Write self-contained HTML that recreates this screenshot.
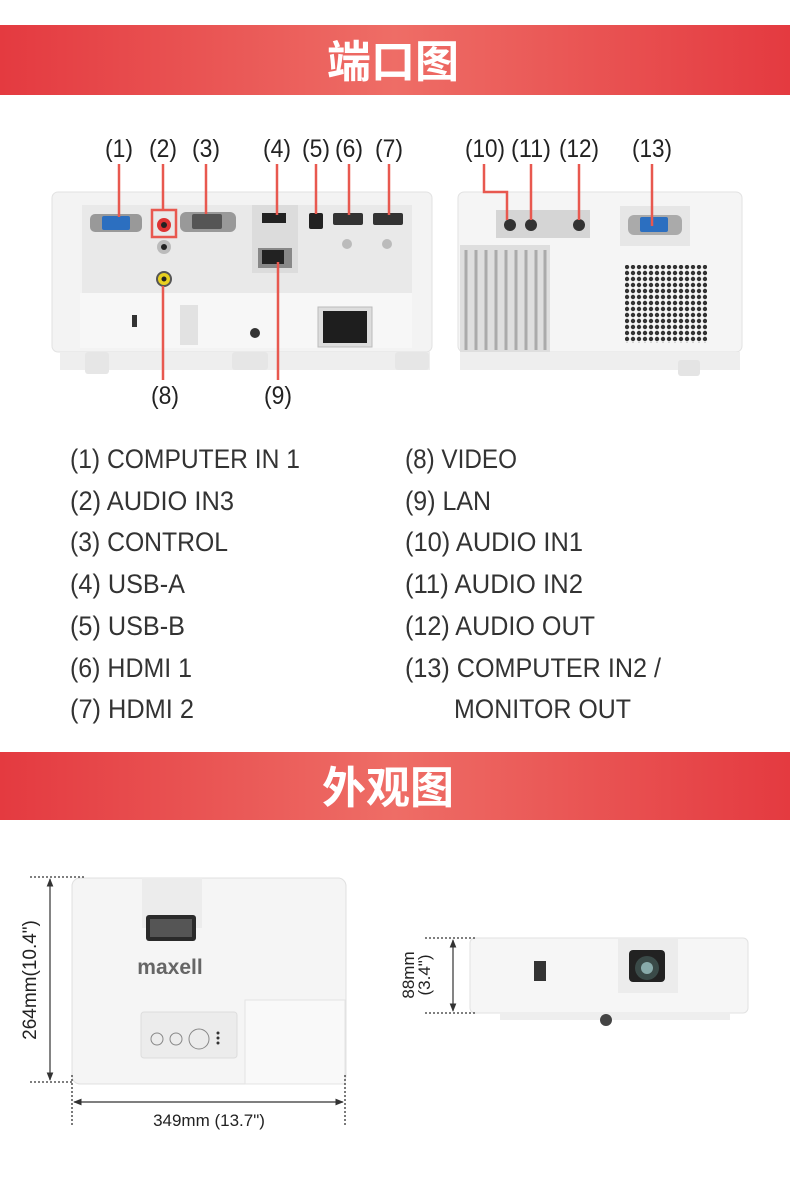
<!DOCTYPE html>
<html><head><meta charset="utf-8"><style>
html,body{margin:0;padding:0;background:#fff}
svg{display:block}
.lbl{font-family:"Liberation Sans Narrow","Liberation Sans",sans-serif;font-size:25px;fill:#222}
.li{font-family:"Liberation Sans Narrow","Liberation Sans",sans-serif;font-size:27px;fill:#333}
.tt{font-family:"Liberation Sans","Noto Sans CJK SC",sans-serif;font-size:44px;font-weight:bold;fill:#fff}
.dim{font-family:"Liberation Sans Narrow","Liberation Sans",sans-serif;fill:#222}
</style></head><body>
<svg width="790" height="1180" viewBox="0 0 790 1180" xmlns="http://www.w3.org/2000/svg">
<defs>
<linearGradient id="bn" x1="0" x2="1" y1="0" y2="0">
<stop offset="0" stop-color="#e43a40"/><stop offset="0.5" stop-color="#ee6d66"/><stop offset="1" stop-color="#e43a40"/>
</linearGradient>
<pattern id="dots" width="6" height="6" patternUnits="userSpaceOnUse"><circle cx="3" cy="3" r="2.2" fill="#333"/></pattern>
<marker id="ar" viewBox="0 0 10 10" refX="9" refY="5" markerWidth="7" markerHeight="7" orient="auto-start-reverse"><path d="M0,1 L10,5 L0,9 z" fill="#333"/></marker>
</defs>
<rect x="0" y="25" width="790" height="70" fill="url(#bn)"/>
<text x="393" y="77" class="tt" text-anchor="middle">端口图</text>

<g class="lbl" text-anchor="middle">
<text x="119" y="157" textLength="28" lengthAdjust="spacingAndGlyphs">(1)</text><text x="163" y="157" textLength="28" lengthAdjust="spacingAndGlyphs">(2)</text><text x="206" y="157" textLength="28" lengthAdjust="spacingAndGlyphs">(3)</text>
<text x="277" y="157" textLength="28" lengthAdjust="spacingAndGlyphs">(4)</text><text x="316" y="157" textLength="28" lengthAdjust="spacingAndGlyphs">(5)</text><text x="349" y="157" textLength="28" lengthAdjust="spacingAndGlyphs">(6)</text><text x="389" y="157" textLength="28" lengthAdjust="spacingAndGlyphs">(7)</text>
<text x="485" y="157" textLength="40" lengthAdjust="spacingAndGlyphs">(10)</text><text x="531" y="157" textLength="40" lengthAdjust="spacingAndGlyphs">(11)</text><text x="579" y="157" textLength="40" lengthAdjust="spacingAndGlyphs">(12)</text><text x="652" y="157" textLength="40" lengthAdjust="spacingAndGlyphs">(13)</text>
<text x="165" y="404" textLength="28" lengthAdjust="spacingAndGlyphs">(8)</text><text x="278" y="404" textLength="28" lengthAdjust="spacingAndGlyphs">(9)</text>
</g>

<rect x="52" y="192" width="380" height="160" rx="6" fill="#f3f3f3" stroke="#e2e2e2"/>
<rect x="82" y="205" width="330" height="88" fill="#e9e9e9"/>
<rect x="252" y="205" width="46" height="68" fill="#dcdcdc"/>
<rect x="80" y="293" width="332" height="55" fill="#f7f7f7"/>
<rect x="60" y="352" width="370" height="18" fill="#eeeeee"/>
<rect x="85" y="352" width="24" height="22" rx="3" fill="#e6e6e6"/>
<rect x="232" y="352" width="36" height="18" rx="3" fill="#e6e6e6"/>
<rect x="395" y="352" width="34" height="18" rx="3" fill="#e6e6e6"/>
<rect x="180" y="305" width="18" height="40" fill="#e2e2e2"/>
<rect x="132" y="315" width="5" height="12" fill="#333"/>
<circle cx="255" cy="333" r="5" fill="#333"/>
<rect x="318" y="307" width="54" height="40" fill="#ddd" stroke="#bbb"/>
<rect x="323" y="311" width="44" height="32" fill="#1e1e1e"/>
<rect x="90" y="214" width="52" height="18" rx="5" fill="#999"/>
<rect x="102" y="216" width="28" height="14" rx="2" fill="#2c6fc0"/>
<rect x="152" y="210" width="24" height="27" fill="none" stroke="#e8584f" stroke-width="2.5"/>
<circle cx="164" cy="225" r="7" fill="#d33"/><circle cx="164" cy="225" r="3" fill="#222"/>
<circle cx="164" cy="247" r="7" fill="#bbb"/><circle cx="164" cy="247" r="3" fill="#222"/>
<circle cx="164" cy="279" r="8" fill="#555"/><circle cx="164" cy="279" r="6" fill="#e8d020"/><circle cx="164" cy="279" r="2.5" fill="#222"/>
<rect x="180" y="212" width="56" height="20" rx="6" fill="#999"/>
<rect x="192" y="214" width="30" height="15" rx="2" fill="#555"/>
<rect x="262" y="213" width="24" height="10" fill="#222"/>
<rect x="258" y="248" width="34" height="20" fill="#888"/><rect x="262" y="250" width="22" height="14" fill="#222"/>
<rect x="309" y="213" width="14" height="16" rx="2" fill="#222"/>
<rect x="333" y="213" width="30" height="12" rx="2" fill="#333"/>
<rect x="373" y="213" width="30" height="12" rx="2" fill="#333"/>
<circle cx="347" cy="244" r="5" fill="#bbb"/><circle cx="387" cy="244" r="5" fill="#bbb"/>
<rect x="458" y="192" width="284" height="160" rx="6" fill="#f5f5f5" stroke="#e2e2e2"/>
<rect x="496" y="210" width="94" height="28" fill="#d5d5d5"/>
<circle cx="510" cy="225" r="6" fill="#333"/><circle cx="531" cy="225" r="6" fill="#333"/><circle cx="579" cy="225" r="6" fill="#333"/>
<rect x="620" y="206" width="70" height="40" fill="#e6e6e6"/>
<rect x="628" y="215" width="54" height="20" rx="6" fill="#aaa"/>
<rect x="640" y="217" width="28" height="15" rx="2" fill="#2c6fc0"/>
<rect x="460" y="245" width="90" height="110" fill="#dedede"/>
<g stroke="#aaa" stroke-width="3">
<line x1="466" y1="250" x2="466" y2="350"/><line x1="476" y1="250" x2="476" y2="350"/><line x1="486" y1="250" x2="486" y2="350"/><line x1="496" y1="250" x2="496" y2="350"/><line x1="506" y1="250" x2="506" y2="350"/><line x1="516" y1="250" x2="516" y2="350"/><line x1="526" y1="250" x2="526" y2="350"/><line x1="536" y1="250" x2="536" y2="350"/><line x1="545" y1="250" x2="545" y2="350"/>
</g>
<rect x="625" y="265" width="82" height="78" fill="url(#dots)"/>
<rect x="460" y="352" width="280" height="18" fill="#eee"/>
<rect x="678" y="360" width="22" height="16" rx="3" fill="#e4e4e4"/>
<g stroke="#e8584f" stroke-width="2.5" fill="none">
<line x1="119" y1="164" x2="119" y2="217"/>
<line x1="163" y1="164" x2="163" y2="210"/>
<line x1="206" y1="164" x2="206" y2="214"/>
<line x1="277" y1="164" x2="277" y2="215"/>
<line x1="316" y1="164" x2="316" y2="214"/>
<line x1="349" y1="164" x2="349" y2="215"/>
<line x1="389" y1="164" x2="389" y2="215"/>
<line x1="163" y1="286" x2="163" y2="380"/>
<line x1="278" y1="262" x2="278" y2="380"/>
<polyline points="484,164 484,192 507,192 507,220"/>
<line x1="531" y1="164" x2="531" y2="220"/>
<line x1="579" y1="164" x2="579" y2="220"/>
<line x1="652" y1="164" x2="652" y2="226"/>
</g>

<g class="li">
<text x="70" y="468" textLength="230" lengthAdjust="spacingAndGlyphs">(1) COMPUTER IN 1</text>
<text x="70" y="510" textLength="164" lengthAdjust="spacingAndGlyphs">(2) AUDIO IN3</text>
<text x="70" y="551" textLength="158" lengthAdjust="spacingAndGlyphs">(3) CONTROL</text>
<text x="70" y="593" textLength="115" lengthAdjust="spacingAndGlyphs">(4) USB-A</text>
<text x="70" y="635" textLength="115" lengthAdjust="spacingAndGlyphs">(5) USB-B</text>
<text x="70" y="677" textLength="122" lengthAdjust="spacingAndGlyphs">(6) HDMI 1</text>
<text x="70" y="718" textLength="124" lengthAdjust="spacingAndGlyphs">(7) HDMI 2</text>
<text x="405" y="468" textLength="112" lengthAdjust="spacingAndGlyphs">(8) VIDEO</text>
<text x="405" y="510" textLength="86" lengthAdjust="spacingAndGlyphs">(9) LAN</text>
<text x="405" y="551" textLength="178" lengthAdjust="spacingAndGlyphs">(10) AUDIO IN1</text>
<text x="405" y="593" textLength="178" lengthAdjust="spacingAndGlyphs">(11) AUDIO IN2</text>
<text x="405" y="635" textLength="190" lengthAdjust="spacingAndGlyphs">(12) AUDIO OUT</text>
<text x="405" y="677" textLength="256" lengthAdjust="spacingAndGlyphs">(13) COMPUTER IN2 /</text>
<text x="454" y="718" textLength="177" lengthAdjust="spacingAndGlyphs">MONITOR OUT</text>
</g>

<rect x="0" y="752" width="790" height="68" fill="url(#bn)"/>
<text x="388" y="803" class="tt" text-anchor="middle">外观图</text>

<rect x="72" y="878" width="274" height="206" rx="8" fill="#f5f5f5" stroke="#e0e0e0"/>
<rect x="142" y="878" width="60" height="50" fill="#ececec"/>
<rect x="146" y="915" width="50" height="26" rx="3" fill="#2a2a2a"/>
<rect x="150" y="919" width="42" height="18" fill="#555"/>
<text x="170" y="974" font-family="Liberation Sans,sans-serif" font-weight="bold" font-size="21" fill="#666" text-anchor="middle">maxell</text>
<rect x="245" y="1000" width="100" height="84" fill="#f9f9f9" stroke="#e4e4e4"/>
<rect x="141" y="1012" width="96" height="46" rx="3" fill="#ececec" stroke="#ddd"/>
<circle cx="157" cy="1039" r="6" fill="none" stroke="#888"/>
<circle cx="176" cy="1039" r="6" fill="none" stroke="#888"/>
<circle cx="199" cy="1039" r="10" fill="none" stroke="#888"/>
<circle cx="218" cy="1033" r="1.5" fill="#333"/><circle cx="218" cy="1038" r="1.5" fill="#333"/><circle cx="218" cy="1043" r="1.5" fill="#333"/>
<g stroke="#333" stroke-width="1.3" stroke-dasharray="2,2" fill="none">
<line x1="30" y1="877" x2="84" y2="877"/><line x1="30" y1="1082" x2="72" y2="1082"/>
<line x1="72" y1="1075" x2="72" y2="1125"/><line x1="345" y1="1075" x2="345" y2="1125"/>
</g>
<line x1="50" y1="879" x2="50" y2="1080" stroke="#333" stroke-width="1.2" marker-start="url(#ar)" marker-end="url(#ar)"/>
<line x1="74" y1="1102" x2="343" y2="1102" stroke="#333" stroke-width="1.2" marker-start="url(#ar)" marker-end="url(#ar)"/>
<text class="dim" font-size="19" transform="translate(36,980) rotate(-90)" text-anchor="middle">264mm(10.4")</text>
<text class="dim" font-size="17" x="209" y="1126" text-anchor="middle">349mm (13.7")</text>

<rect x="470" y="938" width="278" height="75" rx="5" fill="#f6f6f6" stroke="#e2e2e2"/>
<rect x="618" y="938" width="60" height="55" fill="#ececec"/>
<rect x="629" y="950" width="36" height="32" rx="4" fill="#222"/>
<circle cx="647" cy="968" r="12" fill="#3a4a48"/><circle cx="647" cy="968" r="6" fill="#8aa"/>
<rect x="534" y="961" width="12" height="20" fill="#333"/>
<rect x="500" y="1012" width="230" height="8" fill="#eee"/>
<circle cx="606" cy="1020" r="6" fill="#444"/>
<g stroke="#333" stroke-width="1.3" stroke-dasharray="2,2" fill="none">
<line x1="425" y1="938" x2="475" y2="938"/><line x1="425" y1="1013" x2="475" y2="1013"/>
</g>
<line x1="453" y1="940" x2="453" y2="1011" stroke="#333" stroke-width="1.2" marker-start="url(#ar)" marker-end="url(#ar)"/>
<text class="dim" font-size="17" transform="translate(414,975) rotate(-90)" text-anchor="middle">88mm</text>
<text class="dim" font-size="17" transform="translate(430,975) rotate(-90)" text-anchor="middle">(3.4")</text>
</svg>
</body></html>
